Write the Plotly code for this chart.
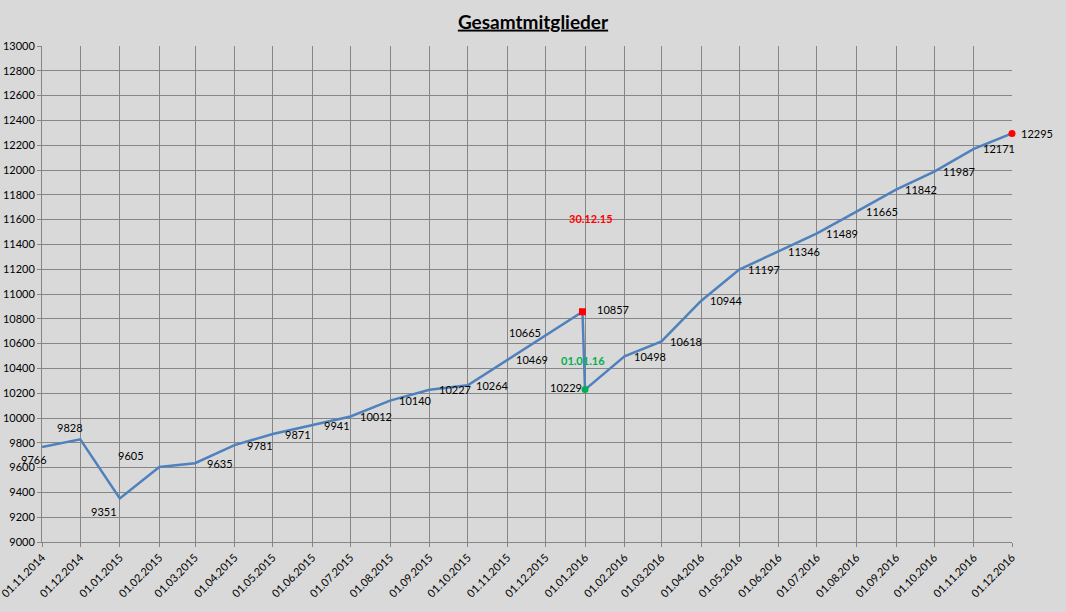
import plotly.graph_objects as go

# ---- data ----
dates = ["2014-11-01", "2014-12-01", "2015-01-01", "2015-02-01", "2015-03-01",
         "2015-04-01", "2015-05-01", "2015-06-01", "2015-07-01", "2015-08-01",
         "2015-09-01", "2015-10-01", "2015-11-01", "2015-12-01", "2015-12-30",
         "2016-01-01", "2016-02-01", "2016-03-01", "2016-04-01", "2016-05-01",
         "2016-06-01", "2016-07-01", "2016-08-01", "2016-09-01", "2016-10-01",
         "2016-11-01", "2016-12-01"]
members = [9766, 9828, 9351, 9605, 9635, 9781, 9871, 9941, 10012, 10140,
           10227, 10264, 10469, 10665, 10857, 10229, 10498, 10618, 10944, 11197,
           11346, 11489, 11665, 11842, 11987, 12171, 12295]

tick_dates = [d for d in dates if d.endswith("-01")]
tick_labels = ["%s.%s.%s" % (d[8:10], d[5:7], d[0:4]) for d in tick_dates]

y_ticks = list(range(9000, 13001, 200))
y_labels = [str(v) for v in y_ticks]

title = "Gesamtmitglieder"
note_red = "30.12.15"
note_green = "01.01.16"

# ---- styles ----
LINE = "#4f81bd"
BG = "#d9d9d9"
GRID = "#868686"
FONT = "Lato"

# label offsets (px) for data labels, default to the right of the point
default_off = (25, 0)
label_off = {0: (-8, 12), 1: (-10, -12), 2: (-16, 13), 3: (-28, -11),
             13: (-21, -3), 14: (31, -2), 15: (-19, -2)}

fig = go.Figure()
fig.add_trace(go.Scatter(x=dates, y=members, mode="lines",
                         line=dict(color=LINE, width=2.5), hoverinfo="x+y",
                         cliponaxis=False, showlegend=False))

# special markers
i_red = dates.index("2015-12-30")
i_green = dates.index("2016-01-01")
i_last = len(dates) - 1
fig.add_trace(go.Scatter(x=[dates[i_red]], y=[members[i_red]], mode="markers",
                         marker=dict(symbol="square", color="#ff0000", size=7),
                         showlegend=False))
fig.add_trace(go.Scatter(x=[dates[i_green]], y=[members[i_green]], mode="markers",
                         marker=dict(symbol="circle", color="#00b050", size=7),
                         showlegend=False))
fig.add_trace(go.Scatter(x=[dates[i_last]], y=[members[i_last]], mode="markers",
                         marker=dict(symbol="circle", color="#ff0000", size=7),
                         cliponaxis=False, showlegend=False))

annotations = []
for i, (d, v) in enumerate(zip(dates, members)):
    dx, dy = label_off.get(i, default_off)
    annotations.append(dict(x=d, y=v, text=str(v), showarrow=False,
                            xshift=dx, yshift=-dy,
                            font=dict(family=FONT, size=11, color="#000000")))

annotations.append(dict(x=dates[i_red], y=members[i_red], text="<b>%s</b>" % note_red,
                        showarrow=False, xshift=9, yshift=93,
                        font=dict(family=FONT, size=11, color="#ff0000")))
annotations.append(dict(x=dates[i_green], y=members[i_green], text="<b>%s</b>" % note_green,
                        showarrow=False, xshift=-2, yshift=29,
                        font=dict(family=FONT, size=11, color="#00b050")))

fig.update_layout(
    width=1066, height=612,
    margin=dict(l=42, r=54, t=46, b=70),
    paper_bgcolor=BG, plot_bgcolor=BG,
    title=dict(text="<b><u>%s</u></b>" % title, x=0.5, xanchor="center",
               y=1 - 22 / 612, yanchor="middle",
               font=dict(family=FONT, size=19, color="#000000")),
    annotations=annotations,
    xaxis=dict(type="date", range=["2014-10-31 23:00", tick_dates[-1]],
               tickmode="array", tickvals=tick_dates, ticktext=tick_labels,
               tickangle=-45, showgrid=True, gridcolor=GRID, gridwidth=1,
               ticks="outside", ticklen=4, tickcolor=GRID,
               showline=True, linecolor=GRID, linewidth=1,
               ticklabeloverflow="allow",
               tickfont=dict(family=FONT, size=11, color="#000000"),
               zeroline=False, automargin=False),
    yaxis=dict(range=[9000, 13000], tickmode="array", tickvals=y_ticks,
               ticktext=y_labels,
               showgrid=True, gridcolor=GRID, gridwidth=1,
               ticks="outside", ticklen=4, tickcolor=GRID,
               showline=True, linecolor=GRID, linewidth=1,
               tickfont=dict(family=FONT, size=11, color="#000000"),
               zeroline=False, automargin=False),
)

fig.write_html("out.html", config={"displayModeBar": False},
               post_script="document.body.style.margin='0';document.body.style.overflow='hidden';")
